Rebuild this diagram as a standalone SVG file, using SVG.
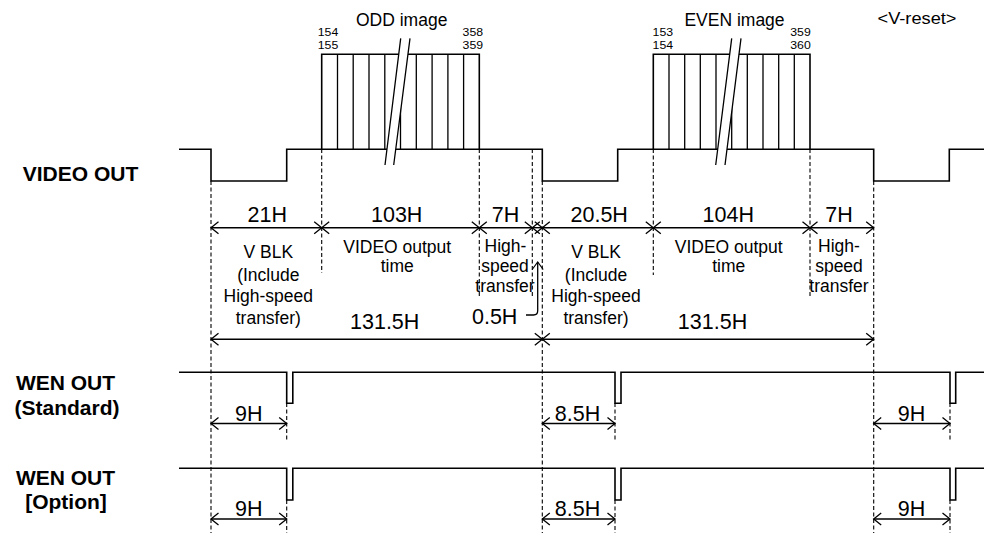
<svg xmlns="http://www.w3.org/2000/svg" width="984" height="533" viewBox="0 0 984 533">
<style>
text{font-family:"Liberation Sans",Arial,sans-serif;fill:#000}
.lbl{font-size:21px;font-weight:bold;text-anchor:middle}
.h{font-size:21.5px;text-anchor:middle}
.s{font-size:17.5px;text-anchor:middle}
.n{font-size:11px;text-anchor:middle}
.sig{fill:none;stroke:#000;stroke-width:1.6}
.thin{fill:none;stroke:#000;stroke-width:1.3}
.dash{fill:none;stroke:#000;stroke-width:1.1;stroke-dasharray:4,2.5}
.arr{fill:none;stroke:#000;stroke-width:1.4;marker-start:url(#ah);marker-end:url(#ah)}
</style>
<defs>
<marker id="ah" markerUnits="userSpaceOnUse" markerWidth="12" markerHeight="14" refX="10" refY="7" orient="auto-start-reverse" overflow="visible">
<path d="M2.5,1 L10,7 L2.5,13" fill="none" stroke="#000" stroke-width="1.3"/>
</marker>
<marker id="ah1" markerUnits="userSpaceOnUse" markerWidth="12" markerHeight="14" refX="10" refY="7" orient="auto" overflow="visible">
<path d="M2.5,1.5 L10,7 L2.5,12.5" fill="none" stroke="#000" stroke-width="1.2"/>
</marker>
</defs>
<rect width="984" height="533" fill="#fff"/>

<g id="labels">
<text class="lbl" x="80.5" y="181">VIDEO OUT</text>
<text class="lbl" x="65.5" y="390">WEN OUT</text>
<text class="lbl" x="67" y="415">(Standard)</text>
<text class="lbl" x="65.5" y="485">WEN OUT</text>
<text class="lbl" x="66" y="509">[Option]</text>
<text font-size="17.5" x="401.7" y="26" text-anchor="middle">ODD image</text>
<text font-size="17.5" x="734.5" y="26" text-anchor="middle">EVEN image</text>
<text font-size="16.5" x="917" y="23.5" text-anchor="middle" textLength="79" lengthAdjust="spacingAndGlyphs">&lt;V-reset&gt;</text>
</g>

<g id="dashes">
<line class="dash" x1="211" y1="181" x2="211" y2="533"/>
<line class="dash" x1="321.7" y1="149" x2="321.7" y2="273"/>
<line class="dash" x1="479.3" y1="149" x2="479.3" y2="296"/>
<line class="dash" x1="532.3" y1="149" x2="532.3" y2="296"/>
<line class="dash" x1="542.3" y1="181" x2="542.3" y2="533"/>
<line class="dash" x1="653.3" y1="149" x2="653.3" y2="275"/>
<line class="dash" x1="810" y1="149" x2="810" y2="296"/>
<line class="dash" x1="873.7" y1="181" x2="873.7" y2="533"/>
<line class="dash" x1="286.7" y1="403" x2="286.7" y2="440"/>
<line class="dash" x1="286.7" y1="500" x2="286.7" y2="533"/>
<line class="dash" x1="615" y1="403" x2="615" y2="440"/>
<line class="dash" x1="615" y1="500" x2="615" y2="533"/>
<line class="dash" x1="950" y1="403" x2="950" y2="440"/>
<line class="dash" x1="950" y1="500" x2="950" y2="533"/>
</g>

<g id="video-out">
<path class="sig" d="M179,149.3 H211 V181 H286.7 V149.3 H542.3 V181 H617.7 V149.3 H873.7 V181 H949.3 V149.3 H984"/>
</g>

<g id="odd-image">
<path class="sig" d="M321.7,149.3 V54.3 H479.3 V149.3"/>
<path class="thin" d="M337.5,54.3V149.3 M353.2,54.3V149.3 M369,54.3V149.3 M384.8,54.3V149.3 M400.5,54.3V149.3 M416.3,54.3V149.3 M432.1,54.3V149.3 M447.9,54.3V149.3 M463.6,54.3V149.3"/>
<polygon points="385,165 400.7,38.3 410,38.3 393.7,165" fill="#fff"/>
<path class="thin" d="M385,165 L400.7,38.3 M393.7,165 L410,38.3"/>
<text class="n" x="328" y="36" textLength="20.5" lengthAdjust="spacingAndGlyphs">154</text>
<text class="n" x="328" y="48.5" textLength="20.5" lengthAdjust="spacingAndGlyphs">155</text>
<text class="n" x="472.8" y="36" textLength="20.5" lengthAdjust="spacingAndGlyphs">358</text>
<text class="n" x="472.8" y="48.5" textLength="20.5" lengthAdjust="spacingAndGlyphs">359</text>
</g>

<g id="even-image">
<path class="sig" d="M653.3,149.3 V54.3 H810 V149.3"/>
<path class="thin" d="M669,54.3V149.3 M684.7,54.3V149.3 M700.3,54.3V149.3 M716,54.3V149.3 M731.7,54.3V149.3 M747.3,54.3V149.3 M763,54.3V149.3 M778.7,54.3V149.3 M794.3,54.3V149.3"/>
<polygon points="715.7,165 731.7,38.3 741,38.3 725,165" fill="#fff"/>
<path class="thin" d="M715.7,165 L731.7,38.3 M725,165 L741,38.3"/>
<text class="n" x="662.8" y="36" textLength="20.5" lengthAdjust="spacingAndGlyphs">153</text>
<text class="n" x="662.8" y="48.5" textLength="20.5" lengthAdjust="spacingAndGlyphs">154</text>
<text class="n" x="800.5" y="36" textLength="20.5" lengthAdjust="spacingAndGlyphs">359</text>
<text class="n" x="800.5" y="48.5" textLength="20.5" lengthAdjust="spacingAndGlyphs">360</text>
</g>

<g id="wen-standard">
<path class="sig" d="M179,372.3 H286.7 V403.3 H292.8 V372.3 H615 V403.3 H621 V372.3 H950 V403.3 H955.7 V372.3 H984"/>
</g>
<g id="wen-option">
<path class="sig" d="M179,468.3 H286.7 V500 H292.8 V468.3 H615 V500 H621 V468.3 H950 V500 H955.7 V468.3 H984"/>
</g>

<g id="connectors">
<line class="arr" x1="211" y1="227.7" x2="321.7" y2="227.7"/>
<line class="arr" x1="321.7" y1="227.7" x2="479.3" y2="227.7"/>
<line class="arr" x1="479.3" y1="227.7" x2="532.3" y2="227.7"/>
<line class="arr" x1="532.3" y1="227.7" x2="542.3" y2="227.7"/>
<line class="arr" x1="542.3" y1="227.7" x2="653.3" y2="227.7"/>
<line class="arr" x1="653.3" y1="227.7" x2="810" y2="227.7"/>
<line class="arr" x1="810" y1="227.7" x2="873.7" y2="227.7"/>
<line class="arr" x1="211" y1="339.3" x2="542.3" y2="339.3"/>
<line class="arr" x1="542.3" y1="339.3" x2="873.7" y2="339.3"/>
<line class="arr" x1="211" y1="423.5" x2="286.7" y2="423.5"/>
<line class="arr" x1="542.3" y1="423.5" x2="615" y2="423.5"/>
<line class="arr" x1="873.7" y1="423.5" x2="950" y2="423.5"/>
<line class="arr" x1="211" y1="519" x2="286.7" y2="519"/>
<line class="arr" x1="542.3" y1="519" x2="615" y2="519"/>
<line class="arr" x1="873.7" y1="519" x2="950" y2="519"/>
<path d="M526,315 H533.5 Q537.7,315 537.7,310.8 V262" fill="none" stroke="#000" stroke-width="1.3" marker-end="url(#ah1)"/>
</g>

<g id="timing-labels">
<text class="h" x="267.3" y="221.5">21H</text>
<text class="h" x="396.7" y="221.5">103H</text>
<text class="h" x="505.5" y="221.5">7H</text>
<text class="h" x="599.2" y="221.5">20.5H</text>
<text class="h" x="728.3" y="221.5">104H</text>
<text class="h" x="839" y="221.5">7H</text>
<text class="h" x="384.7" y="329.3">131.5H</text>
<text class="h" x="712.5" y="329.3">131.5H</text>
<text class="h" x="494.7" y="324.3">0.5H</text>
<text class="h" x="248.8" y="421">9H</text>
<text class="h" x="577.5" y="421">8.5H</text>
<text class="h" x="911.5" y="421">9H</text>
<text class="h" x="248.8" y="516">9H</text>
<text class="h" x="577.5" y="516">8.5H</text>
<text class="h" x="911.5" y="516">9H</text>
</g>

<g id="period-labels">
<text class="s" x="268.3" y="258.3">V BLK</text>
<text class="s" x="268.3" y="280.5">(Include</text>
<text class="s" x="268.3" y="302.3">High-speed</text>
<text class="s" x="268.3" y="323.5">transfer)</text>
<text class="s" x="397.2" y="252.7">VIDEO output</text>
<text class="s" x="397.2" y="272.3">time</text>
<text class="s" x="505.5" y="252.3">High-</text>
<text class="s" x="505" y="272.3">speed</text>
<text class="s" x="505" y="291.7">transfer</text>
<text class="s" x="596" y="258.3">V BLK</text>
<text class="s" x="596" y="280.5">(Include</text>
<text class="s" x="596" y="302.3">High-speed</text>
<text class="s" x="596" y="323.5">transfer)</text>
<text class="s" x="728.7" y="252.7">VIDEO output</text>
<text class="s" x="728.7" y="272.3">time</text>
<text class="s" x="839" y="252.3">High-</text>
<text class="s" x="839" y="272.3">speed</text>
<text class="s" x="839" y="291.7">transfer</text>
</g>
</svg>
